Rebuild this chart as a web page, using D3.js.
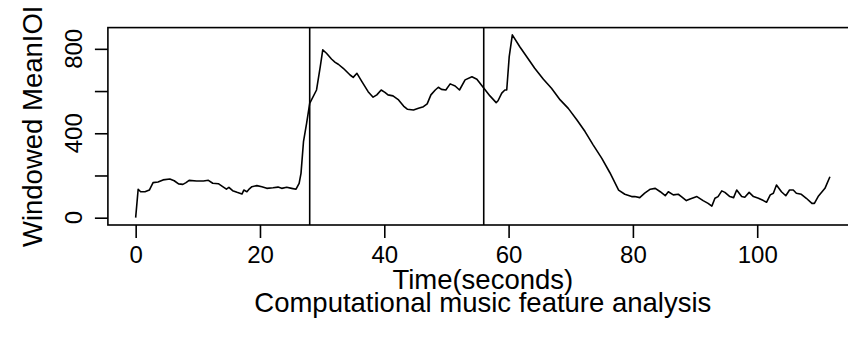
<!DOCTYPE html>
<html>

<head>
  <meta charset="utf8">
  <script src="https://d3js.org/d3.v7.min.js"></script>
  <style>
    body {
      margin: 0;
      background: white;
    }

    text {
      font-family: "Liberation Sans", Arial, sans-serif;
      fill: black;
    }

    .line {
      fill: none;
      stroke: black;
      stroke-width: 1.6;
      stroke-linejoin: round;
    }
  </style>
</head>

<body>
  <svg id="chart" width="848" height="347"></svg>

  <script>
    // seconds
    var time = [
      0, 0.4, 0.8, 1.5, 2.2, 2.8, 3.6, 4.4, 5.5, 6.2, 6.9, 7.6, 8.1, 8.6, 9.8, 10.9, 11.7, 12.4, 13.3, 14.0,
      14.6, 15.0, 15.6, 16.3, 17.1, 17.4, 17.9, 18.3,
      18.7, 19.5, 20.3, 21.1, 22.1, 22.9, 23.5, 24.3, 25.1, 25.8, 26.3, 26.6, 27.0, 27.5, 28.0, 29.1, 29.7, 30.1,
      30.7, 31.5, 32.1, 32.6, 33.4, 34.5, 35.0, 35.6, 36.4, 37.4, 38.2, 38.8, 39.5, 40.1, 40.6, 41.4, 42.3, 43.1,
      43.7, 44.7, 45.5, 46.3, 46.9, 47.5, 48.2, 48.7, 49.2, 49.9, 50.6, 51.4, 52.1, 53.0, 54.1, 54.9, 55.9, 57.0,
      58.0, 58.3, 58.9, 59.4, 59.7, 60.1, 60.6, 61.8, 63.2, 64.2, 65.6, 66.9, 68.3, 69.6, 71.0, 72.3, 73.6, 75.0,
      76.3, 77.7,
      78.7, 79.8, 80.3, 81.1, 81.9, 82.8, 83.6, 84.4, 85.2, 85.7, 86.5, 87.3, 87.8, 88.6, 89.2, 90.3, 91.3, 92.1,
      92.7, 93.2, 93.7, 94.3, 94.8, 95.6, 96.2, 96.7, 97.5, 98.0, 98.7, 99.4, 100.2, 101.0, 101.5, 102.1, 102.6,
      103.1, 103.9, 104.6, 105.2, 105.8, 106.3, 107.1, 107.9, 108.8, 109.2, 109.8, 110.9, 111.7
    ];

    var meanIOI = [
      0, 135, 123, 123, 131, 166, 169, 179, 183, 175, 160, 158, 166, 177, 174, 174, 177, 163, 161, 147,
      135, 144, 128, 120, 112, 131, 123, 137,
      147, 152, 147, 139, 142, 145, 139, 144, 139, 135, 163, 210, 360, 447, 542, 605, 716, 795,
      779, 752, 736, 727, 708, 676, 665, 684, 645, 597, 571, 582, 605, 594, 582, 577, 558, 529,
      514, 510, 518, 526, 539, 582, 605, 618, 608, 605, 634, 624, 605, 653, 668, 656, 618, 577,
      545, 554, 590, 605, 605, 763, 866, 810, 751, 708, 656, 613, 558, 518, 463, 408, 345, 281,
      213, 131,
      111, 100, 100, 95, 116, 135, 139, 123, 104, 123, 108, 111, 100, 81, 89, 100, 81, 68,
      55, 92, 100, 127, 120, 100, 95, 131, 100, 97, 120, 100, 92, 81, 73, 108, 116,
      155, 123, 104, 131, 131, 116, 111, 92, 68, 68, 100, 139, 194
    ];

    var segmentLines = [28, 56];
    var xTicks = [0, 20, 40, 60, 80, 100];
    var yTicks = [0, 200, 400, 600, 800];
    var yTickLabels = [0, 400, 800];

    var data = time.map((t, i) => ({ t: t, v: meanIOI[i] }));

    var chart = d3.select('#chart');

    // R style: extend data range by 4% on each side
    function padded(ext) {
      var p = (ext[1] - ext[0]) * 0.04;
      return [ext[0] - p, ext[1] + p];
    }

    var x = d3.scaleLinear()
      .domain(padded(d3.extent(time)))
      .range([107.9, 857.7]);

    var y = d3.scaleLinear()
      .domain(padded(d3.extent(meanIOI)))
      .range([225, 27.6]);

    var plotLeft = x.range()[0], plotRight = x.range()[1];
    var plotTop = y.range()[1], plotBottom = y.range()[0];

    // data line
    chart.append('path')
      .datum(data)
      .attr('class', 'line')
      .attr('d', d3.line().x((d) => x(d.t)).y((d) => y(d.v)));

    // vertical section markers
    chart.selectAll('.vline')
      .data(segmentLines)
      .enter()
      .append('line')
      .attr('class', 'vline')
      .attr('x1', (d) => x(d))
      .attr('x2', (d) => x(d))
      .attr('y1', plotTop)
      .attr('y2', plotBottom)
      .attr('stroke', 'black')
      .attr('stroke-width', 1.6);

    // box
    chart.append('rect')
      .attr('x', plotLeft)
      .attr('y', plotTop)
      .attr('width', plotRight - plotLeft)
      .attr('height', plotBottom - plotTop)
      .attr('fill', 'none')
      .attr('stroke', 'black')
      .attr('stroke-width', 1.6);

    // x axis
    var xAxis = chart.append('g')
      .attr('transform', 'translate(0, ' + plotBottom + ')')
      .call(d3.axisBottom(x).tickValues(xTicks).tickSize(13).tickPadding(8));
    xAxis.select('.domain').remove();
    xAxis.selectAll('line').attr('stroke', 'black').attr('stroke-width', 1.6);
    xAxis.selectAll('text').attr('font-size', 24).attr('font-family', '"Liberation Sans", Arial, sans-serif');

    // y axis
    var yAxis = chart.append('g')
      .attr('transform', 'translate(' + plotLeft + ', 0)')
      .call(d3.axisLeft(y).tickValues(yTicks).tickSize(13).tickFormat(''));
    yAxis.select('.domain').remove();
    yAxis.selectAll('line').attr('stroke', 'black').attr('stroke-width', 1.6);

    chart.selectAll('.ylabel')
      .data(yTickLabels)
      .enter()
      .append('text')
      .attr('class', 'ylabel')
      .attr('transform', (d) => 'translate(82, ' + y(d) + ') rotate(-90)')
      .attr('text-anchor', 'middle')
      .attr('font-size', 24)
      .text((d) => d);

    // titles
    chart.append('text')
      .attr('transform', 'translate(42, ' + ((plotTop + plotBottom) / 2) + ') rotate(-90)')
      .attr('text-anchor', 'middle')
      .attr('font-size', 27.5)
      .text('Windowed MeanIOI');

    var cx = (plotLeft + plotRight) / 2;
    chart.append('text')
      .attr('x', cx)
      .attr('y', 289)
      .attr('text-anchor', 'middle')
      .attr('font-size', 27.5)
      .text('Time(seconds)');

    chart.append('text')
      .attr('x', cx)
      .attr('y', 312)
      .attr('text-anchor', 'middle')
      .attr('font-size', 27.5)
      .text('Computational music feature analysis');
  </script>
</body>

</html>
